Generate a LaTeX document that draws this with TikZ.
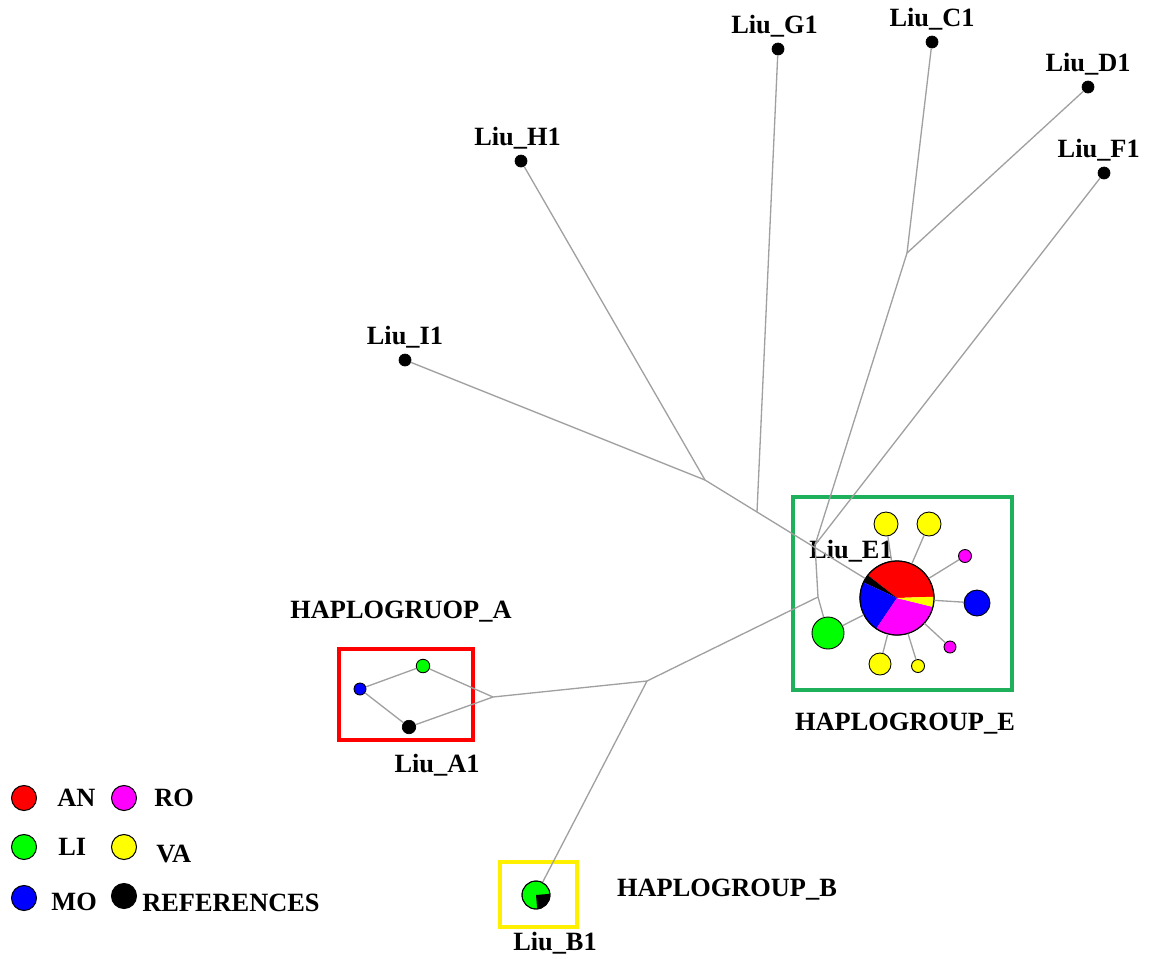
\documentclass[tikz,border=0pt]{standalone}
\usepackage{fontspec}
\setmainfont{Liberation Serif}
\usetikzlibrary{positioning}
\definecolor{linegray}{RGB}{160,160,160}
\definecolor{boxgreen}{RGB}{30,176,90}
\definecolor{boxyellow}{RGB}{255,240,0}
\definecolor{hapred}{RGB}{255,0,0}
\definecolor{hapgreen}{RGB}{0,255,0}
\definecolor{hapblue}{RGB}{0,0,255}
\definecolor{hapmagenta}{RGB}{255,0,255}
\definecolor{hapyellow}{RGB}{255,255,0}
\tikzset{
    hapline/.style={draw=linegray, line width=0.75pt},
    hapdot/.style={circle, draw=black, fill=black, inner sep=0pt, minimum size=0.24cm},
    hapnode/.style={circle, draw=black, line width=0.5pt, inner sep=0pt, minimum size=#1},
    hapnode/.default=0.4cm,
    haplabel/.style={font=\bfseries\fontsize{15}{17}\selectfont, inner sep=0pt},
    hapbox/.style={draw=#1, line width=2.3pt},
    legenddot/.style={circle, draw=black, line width=0.6pt, inner sep=0pt, minimum size=0.5cm}
}
\begin{document}
\begin{tikzpicture}[x=0.02cm, y=-0.02cm]
    \useasboundingbox (0,0) rectangle (1153,958);
    % haplogroup frames
    \draw[hapbox=hapred] (339,649) rectangle (473,740);
    \draw[hapbox=boxgreen] (793,497) rectangle (1012,690);
    \draw[hapbox=boxyellow] (500,862) rectangle (577,927);
    % reference haplotypes
    \node[hapdot] (g1) at (778,49) {};
    \node[hapdot] (c1) at (932,42) {};
    \node[hapdot] (d1) at (1088,87) {};
    \node[hapdot] (f1) at (1104,173) {};
    \node[hapdot] (h1) at (521,161) {};
    \node[hapdot] (i1) at (405,360) {};
    \node[haplabel, above=3pt of g1, xshift=-2pt] (g1lab) {Liu\_G1};
    \node[haplabel, above=3pt of c1] (c1lab) {Liu\_C1};
    \node[haplabel, above=3pt of d1] (d1lab) {Liu\_D1};
    \node[haplabel, above=3pt of f1, xshift=-3pt] (f1lab) {Liu\_F1};
    \node[haplabel, above=3pt of h1, xshift=-2pt] (h1lab) {Liu\_H1};
    \node[haplabel, above=3pt of i1] (i1lab) {Liu\_I1};
    % haplogroup A
    \node[hapnode=0.24cm, fill=hapblue] (amo) at (360,689) {};
    \node[hapnode=0.27cm, fill=hapgreen] (ali) at (423,666) {};
    \node[hapdot, minimum size=0.27cm] (a1) at (409,727) {};
    \node[haplabel] (a1lab) at (437,765) {Liu\_A1};
    \node[haplabel] (alab) at (401,612) {HAPLOGRUOP\_A};
    % haplogroup B
    \node[hapnode=0.56cm, fill=hapgreen] (b1) at (536,895) {};
    \fill[black] (b1.center) -- ++(-85:0.28cm) arc[start angle=-85, end angle=5, radius=0.28cm] -- cycle;
    \draw[line width=0.5pt] (b1.center) circle[radius=0.28cm];
    \node[haplabel] (b1lab) at (555,943) {Liu\_B1};
    \node[haplabel] (blab) at (727,890) {HAPLOGROUP\_B};
    % haplogroup E
    \node[hapnode=1.48cm] (e1) at (897,598) {};
    \fill[hapred] (e1.center) -- ++(2:0.74cm) arc[start angle=2, end angle=142, radius=0.74cm] -- cycle;
    \fill[black] (e1.center) -- ++(142:0.74cm) arc[start angle=142, end angle=155, radius=0.74cm] -- cycle;
    \fill[hapblue] (e1.center) -- ++(155:0.74cm) arc[start angle=155, end angle=236, radius=0.74cm] -- cycle;
    \fill[hapmagenta] (e1.center) -- ++(236:0.74cm) arc[start angle=236, end angle=346, radius=0.74cm] -- cycle;
    \fill[hapyellow] (e1.center) -- ++(346:0.74cm) arc[start angle=346, end angle=362, radius=0.74cm] -- cycle;
    \draw[line width=0.7pt] (e1.center) circle[radius=0.74cm];
    \node[hapnode=0.48cm, fill=hapyellow] (eva1) at (886,524) {};
    \node[hapnode=0.48cm, fill=hapyellow] (eva2) at (929,524) {};
    \node[hapnode=0.26cm, fill=hapmagenta] (ero1) at (965,556) {};
    \node[hapnode=0.52cm, fill=hapblue] (emo) at (977,603) {};
    \node[hapnode=0.24cm, fill=hapmagenta] (ero2) at (950,647) {};
    \node[hapnode=0.26cm, fill=hapyellow] (eva3) at (918,666) {};
    \node[hapnode=0.44cm, fill=hapyellow] (eva4) at (880,664) {};
    \node[hapnode=0.64cm, fill=hapgreen] (eli) at (828,633) {};
    \node[haplabel] (e1lab) at (851,551) {Liu\_E1};
    \node[haplabel] (elab) at (905,724) {HAPLOGROUP\_E};
    % median vectors
    \coordinate (mi) at (705,480);
    \coordinate (mg) at (757,512);
    \coordinate (mc) at (907,253);
    \coordinate (mf) at (815,545);
    \coordinate (me) at (818,597);
    \coordinate (mb) at (647,681);
    \coordinate (ma) at (493,697);
    % links
    \draw[hapline] (i1) -- (mi);
    \draw[hapline] (h1) -- (mi);
    \draw[hapline] (mi) -- (mg);
    \draw[hapline] (g1) -- (mg);
    \draw[hapline] (mg) -- (e1);
    \draw[hapline] (c1) -- (mc);
    \draw[hapline] (d1) -- (mc);
    \draw[hapline] (mc) -- (mf);
    \draw[hapline] (f1) -- (mf);
    \draw[hapline] (mf) -- (me);
    \draw[hapline] (me) -- (eli);
    \draw[hapline] (eli) -- (e1);
    \draw[hapline] (me) -- (mb);
    \draw[hapline] (mb) -- (b1);
    \draw[hapline] (mb) -- (ma);
    \draw[hapline] (ma) -- (ali);
    \draw[hapline] (ma) -- (a1);
    \draw[hapline] (amo) -- (ali);
    \draw[hapline] (amo) -- (a1);
    \draw[hapline] (e1) -- (eva1);
    \draw[hapline] (e1) -- (eva2);
    \draw[hapline] (e1) -- (ero1);
    \draw[hapline] (e1) -- (emo);
    \draw[hapline] (e1) -- (ero2);
    \draw[hapline] (e1) -- (eva3);
    \draw[hapline] (e1) -- (eva4);
    % legend
    \node[legenddot, fill=hapred] (legan) at (24,798) {};
    \node[legenddot, fill=hapmagenta] (legro) at (124,798) {};
    \node[legenddot, fill=hapgreen] (legli) at (24,847) {};
    \node[legenddot, fill=hapyellow] (legva) at (124,847) {};
    \node[legenddot, fill=hapblue] (legmo) at (24,898) {};
    \node[legenddot, fill=black] (legref) at (124,896) {};
    \node[haplabel, right=0.4cm of legan] (legantext) {AN};
    \node[haplabel, right=0.34cm of legro] (legrotext) {RO};
    \node[haplabel, right=0.42cm of legli] (leglitext) {LI};
    \node[haplabel, right=0.38cm of legva, yshift=-4pt] (legvatext) {VA};
    \node[haplabel, right=0.28cm of legmo, yshift=-2pt] (legmotext) {MO};
    \node[haplabel, right=0.1cm of legref, yshift=-4pt] (legreftext) {REFERENCES};
\end{tikzpicture}
\end{document}
